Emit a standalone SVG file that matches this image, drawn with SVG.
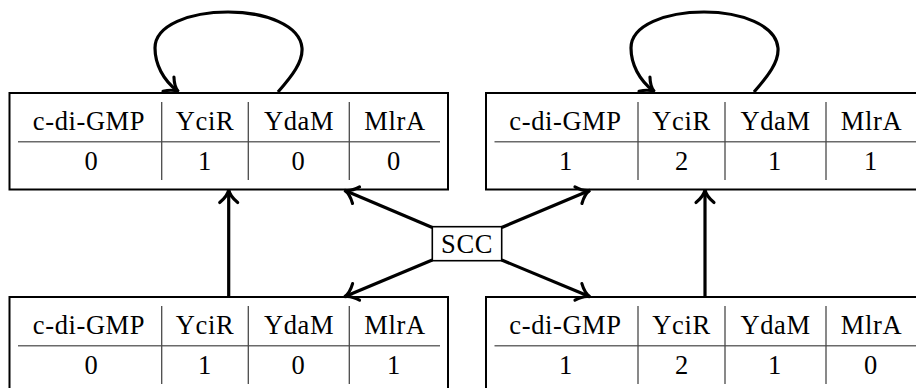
<svg xmlns="http://www.w3.org/2000/svg" width="916" height="388" viewBox="0 0 916 388">
  <style>
    .box { fill: #fff; stroke: #000; stroke-width: 2; }
    .sep { stroke: #4a4a4a; stroke-width: 1.3; }
    .rule { stroke: #6a6a6a; stroke-width: 1.4; }
    .lbl { font-size: 26.5px; letter-spacing: 0.6px; fill: #000; text-anchor: middle; }
    .edge { fill: none; stroke: #000; stroke-width: 3.2; marker-end: url(#arr); }
  </style>
  <defs>
    <marker id="arr" markerUnits="userSpaceOnUse" markerWidth="24" markerHeight="24" viewBox="-14 -10 18 20" refX="0" refY="0" orient="auto" overflow="visible">
      <path d="M -10,-7.5 C -6,-2.5 -2.5,-0.6 0.5,0 C -2.5,0.6 -6,2.5 -10,7.5" fill="none" stroke="#000" stroke-width="2.6" stroke-linecap="round"/>
    </marker>
  </defs>

  <g font-family="'Liberation Serif', 'DejaVu Serif', 'Times New Roman', serif">
  <!-- state 0 1 0 0 -->
  <g id="s0100">
    <rect class="box" x="9.5" y="93" width="438.5" height="96.5"/>
    <line class="rule" x1="18" y1="141.7" x2="440" y2="141.7"/>
    <line class="sep" x1="161.7" y1="102" x2="161.7" y2="180"/>
    <line class="sep" x1="248.3" y1="102" x2="248.3" y2="180"/>
    <line class="sep" x1="349.3" y1="102" x2="349.3" y2="180"/>
    <text class="lbl" x="89" y="130">c-di-GMP</text>
    <text class="lbl" x="205" y="130">YciR</text>
    <text class="lbl" x="299" y="130">YdaM</text>
    <text class="lbl" x="395" y="130">MlrA</text>
    <text class="lbl" x="91.5" y="170">0</text>
    <text class="lbl" x="205" y="170">1</text>
    <text class="lbl" x="298.5" y="170">0</text>
    <text class="lbl" x="394" y="170">0</text>
  </g>

  <!-- state 1 2 1 1 -->
  <g id="s1211">
    <rect class="box" x="486" y="93" width="438.5" height="96.5"/>
    <line class="rule" x1="494.5" y1="141.7" x2="916" y2="141.7"/>
    <line class="sep" x1="638" y1="102" x2="638" y2="180"/>
    <line class="sep" x1="725" y1="102" x2="725" y2="180"/>
    <line class="sep" x1="826" y1="102" x2="826" y2="180"/>
    <text class="lbl" x="565.5" y="130">c-di-GMP</text>
    <text class="lbl" x="681.5" y="130">YciR</text>
    <text class="lbl" x="775.5" y="130">YdaM</text>
    <text class="lbl" x="871.5" y="130">MlrA</text>
    <text class="lbl" x="566" y="170">1</text>
    <text class="lbl" x="682" y="170">2</text>
    <text class="lbl" x="775" y="170">1</text>
    <text class="lbl" x="871" y="170">1</text>
  </g>

  <!-- state 0 1 0 1 -->
  <g id="s0101">
    <rect class="box" x="9.5" y="297" width="438.5" height="96.5"/>
    <line class="rule" x1="18" y1="345.7" x2="440" y2="345.7"/>
    <line class="sep" x1="161.7" y1="306" x2="161.7" y2="384"/>
    <line class="sep" x1="248.3" y1="306" x2="248.3" y2="384"/>
    <line class="sep" x1="349.3" y1="306" x2="349.3" y2="384"/>
    <text class="lbl" x="89" y="334">c-di-GMP</text>
    <text class="lbl" x="205" y="334">YciR</text>
    <text class="lbl" x="299" y="334">YdaM</text>
    <text class="lbl" x="395" y="334">MlrA</text>
    <text class="lbl" x="91.5" y="374">0</text>
    <text class="lbl" x="205" y="374">1</text>
    <text class="lbl" x="298.5" y="374">0</text>
    <text class="lbl" x="394" y="374">1</text>
  </g>

  <!-- state 1 2 1 0 -->
  <g id="s1210">
    <rect class="box" x="486" y="297" width="438.5" height="96.5"/>
    <line class="rule" x1="494.5" y1="345.7" x2="916" y2="345.7"/>
    <line class="sep" x1="638" y1="306" x2="638" y2="384"/>
    <line class="sep" x1="725" y1="306" x2="725" y2="384"/>
    <line class="sep" x1="826" y1="306" x2="826" y2="384"/>
    <text class="lbl" x="565.5" y="334">c-di-GMP</text>
    <text class="lbl" x="681.5" y="334">YciR</text>
    <text class="lbl" x="775.5" y="334">YdaM</text>
    <text class="lbl" x="871.5" y="334">MlrA</text>
    <text class="lbl" x="566" y="374">1</text>
    <text class="lbl" x="682" y="374">2</text>
    <text class="lbl" x="775" y="374">1</text>
    <text class="lbl" x="871" y="374">0</text>
  </g>

  <!-- SCC label -->
  <g id="scc">
    <rect x="432.3" y="226.7" width="69.4" height="34" fill="#fff" stroke="#000" stroke-width="1.6"/>
    <text class="lbl" x="467" y="253">SCC</text>
  </g>
  </g>

  <g id="edges">
    <!-- self loops -->
    <path class="edge" d="M 278,92 C 292,76 303,62 302,48 C 300,25 265,12 228,12 C 190,12 155,25 155,48 C 155,64 163,80 178,91.5"/>
    <path class="edge" d="M 754,92 C 768,76 779,62 778,48 C 776,25 741,12 704,12 C 666,12 631,25 631,48 C 631,64 639,80 654,91.5"/>
    <!-- vertical transitions -->
    <path class="edge" d="M 228.7,297 L 228.7,190.5"/>
    <path class="edge" d="M 705,297 L 705,190.5"/>
    <!-- SCC to states -->
    <path class="edge" d="M 432.3,227.5 L 345,190.5"/>
    <path class="edge" d="M 432.3,260 L 345,296.5"/>
    <path class="edge" d="M 501.7,227.5 L 589.5,190.5"/>
    <path class="edge" d="M 501.7,260 L 589.5,296.5"/>
  </g>
</svg>
